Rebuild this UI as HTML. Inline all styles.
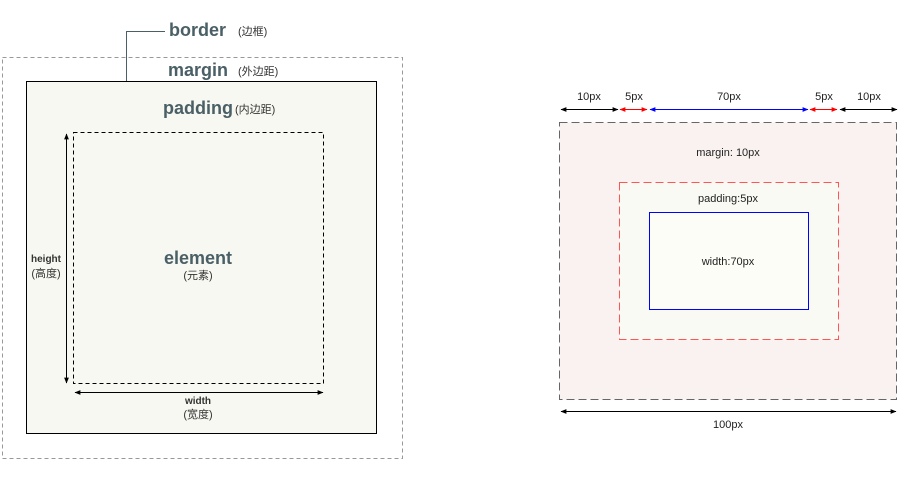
<!DOCTYPE html>
<html><head><meta charset="utf-8"><style>
body{margin:0;background:#fff;}
svg{display:block;font-family:"Liberation Sans","Noto Sans CJK SC",sans-serif;}
.h{fill:#4a6066;font-weight:bold;}
.s{font-size:11px;fill:#222;}
</style></head><body>
<svg width="900" height="488" viewBox="0 0 900 488">
<defs>
<marker id="ak" viewBox="0 0 10 10" refX="9" refY="5" markerWidth="6" markerHeight="6" orient="auto-start-reverse"><path d="M0,1L10,5L0,9z" fill="#000"/></marker>
<marker id="ar" viewBox="0 0 10 10" refX="9" refY="5" markerWidth="6" markerHeight="6" orient="auto-start-reverse"><path d="M0,1L10,5L0,9z" fill="#f00"/></marker>
<marker id="ab" viewBox="0 0 10 10" refX="9" refY="5" markerWidth="6" markerHeight="6" orient="auto-start-reverse"><path d="M0,1L10,5L0,9z" fill="#00f"/></marker>
</defs>
<g>
<rect x="2.5" y="57.5" width="400" height="401" fill="none" stroke="#999" stroke-dasharray="4,3"/>
<rect x="26.5" y="81.5" width="350" height="352" fill="#f8f8f2" stroke="#000"/>
<rect x="73.5" y="132.5" width="250" height="251" fill="none" stroke="#000" stroke-dasharray="4,3"/>
<path d="M126.5,81V31.5H165" fill="none" stroke="#4a6066"/>
<text x="169" y="36" class="h" font-size="18">border</text>
<text x="238" y="35" font-size="11" fill="#333">(边框)</text>
<text x="168" y="76" class="h" font-size="18">margin</text>
<text x="238" y="75" font-size="11" fill="#333">(外边距)</text>
<text x="163" y="114" class="h" font-size="18">padding</text>
<text x="235" y="113" font-size="11" fill="#333">(内边距)</text>
<text x="198" y="264" class="h" font-size="18" text-anchor="middle">element</text>
<text x="198" y="279" font-size="11" fill="#333" text-anchor="middle">(元素)</text>
<line x1="66.5" y1="134" x2="66.5" y2="383" stroke="#000" marker-start="url(#ak)" marker-end="url(#ak)"/>
<text x="46" y="262" font-size="10" font-weight="bold" fill="#333" text-anchor="middle">height</text>
<text x="46" y="277" font-size="11" fill="#333" text-anchor="middle">(高度)</text>
<line x1="75" y1="392.5" x2="323" y2="392.5" stroke="#000" marker-start="url(#ak)" marker-end="url(#ak)"/>
<text x="198" y="404" font-size="10" font-weight="bold" fill="#333" text-anchor="middle">width</text>
<text x="198" y="418" font-size="11" fill="#333" text-anchor="middle">(宽度)</text>
</g>
<g>
<rect x="559.5" y="122.5" width="337" height="277" fill="#f9f2f0" stroke="#666" stroke-dasharray="8,4"/>
<rect x="619.5" y="182.5" width="219" height="157" fill="#fafaf5" stroke="#f55" stroke-dasharray="8,4"/>
<rect x="649.5" y="212.5" width="159" height="97" fill="#fdfdf8" stroke="#00f"/>
<text class="s" x="728" y="156" text-anchor="middle">margin: 10px</text>
<text class="s" x="728" y="202" text-anchor="middle">padding:5px</text>
<text class="s" x="728" y="265" text-anchor="middle">width:70px</text>
<line x1="561" y1="109.5" x2="618" y2="109.5" stroke="#000" marker-start="url(#ak)" marker-end="url(#ak)"/>
<line x1="620" y1="109.5" x2="647" y2="109.5" stroke="#f00" marker-start="url(#ar)" marker-end="url(#ar)"/>
<line x1="650" y1="109.5" x2="808" y2="109.5" stroke="#00f" marker-start="url(#ab)" marker-end="url(#ab)"/>
<line x1="810" y1="109.5" x2="837" y2="109.5" stroke="#f00" marker-start="url(#ar)" marker-end="url(#ar)"/>
<line x1="840" y1="109.5" x2="897" y2="109.5" stroke="#000" marker-start="url(#ak)" marker-end="url(#ak)"/>
<text class="s" x="589" y="100" text-anchor="middle">10px</text>
<text class="s" x="634" y="100" text-anchor="middle">5px</text>
<text class="s" x="729" y="100" text-anchor="middle">70px</text>
<text class="s" x="824" y="100" text-anchor="middle">5px</text>
<text class="s" x="869" y="100" text-anchor="middle">10px</text>
<line x1="561" y1="411.5" x2="896" y2="411.5" stroke="#000" marker-start="url(#ak)" marker-end="url(#ak)"/>
<text class="s" x="728" y="428" text-anchor="middle">100px</text>
</g>
</svg>
</body></html>
